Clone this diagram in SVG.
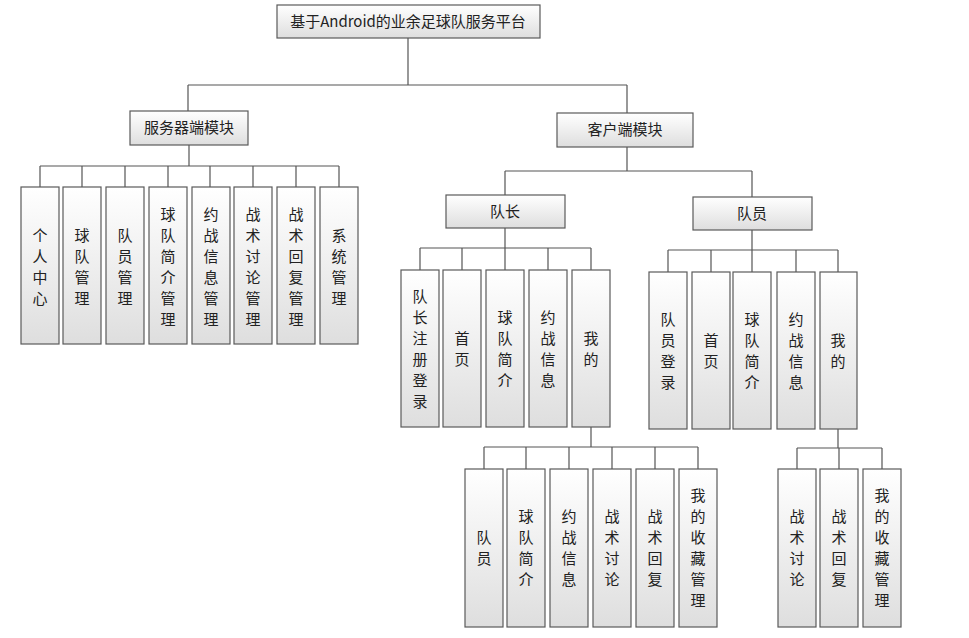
<svg xmlns="http://www.w3.org/2000/svg" width="969" height="638" viewBox="0 0 969 638">
<defs>
<linearGradient id="g" x1="0" y1="0" x2="0" y2="1"><stop offset="0" stop-color="#ffffff"/><stop offset="1" stop-color="#dedede"/></linearGradient>
</defs>
<style>
rect{fill:url(#g);stroke:#5a5a5a;stroke-width:1.2}
rect.bg{fill:#fff;stroke:none}
text{font-family:"Noto Sans CJK SC","Liberation Sans",sans-serif;font-size:15px;fill:#222;text-anchor:middle}
#connectors path{fill:none;stroke:#555;stroke-width:1.2}
</style>
<rect class="bg" width="969" height="638"/>
<g id="connectors">
<path d="M408 38V85M188 85H627M188 85V111M627 85V113"/>
<path d="M189 145V166M40 166H339M40 166V187M82 166V187M125 166V187M168 166V187M210 166V187M253 166V187M296 166V187M339 166V187"/>
<path d="M627 147V171M505 171H752M505 171V195M752 171V197"/>
<path d="M505 228V248M420 248H591M420 248V270M462 248V270M505 248V270M548 248V270M591 248V270"/>
<path d="M752 230V250M668 250H838M668 250V272M711 250V272M752 250V272M796 250V272M838 250V272"/>
<path d="M591 427V447M484 447H698M484 447V469M526 447V469M569 447V469M612 447V469M655 447V469M698 447V469"/>
<path d="M838 429V448M797 448H882M797 448V469M839 448V469M882 448V469"/>
</g>
<g id="root"><rect x="277" y="5" width="263" height="33"/><text x="408" y="27">基于Android的业余足球队服务平台</text></g>
<g id="server"><rect x="130" y="111" width="118" height="34"/><text x="189" y="133">服务器端模块</text></g>
<g id="client"><rect x="557" y="113" width="136" height="34"/><text x="625" y="135">客户端模块</text></g>
<g id="captain"><rect x="446" y="195" width="119" height="33"/><text x="505" y="217">队长</text></g>
<g id="member"><rect x="693" y="197" width="119" height="33"/><text x="752" y="219">队员</text></g>

<g id="s1"><rect x="21" y="187" width="38" height="157"/><text x="40" y="241">个</text><text x="40" y="262">人</text><text x="40" y="283">中</text><text x="40" y="304">心</text></g>
<g id="s2"><rect x="63" y="187" width="38" height="157"/><text x="82" y="241">球</text><text x="82" y="262">队</text><text x="82" y="283">管</text><text x="82" y="304">理</text></g>
<g id="s3"><rect x="106" y="187" width="38" height="157"/><text x="125" y="241">队</text><text x="125" y="262">员</text><text x="125" y="283">管</text><text x="125" y="304">理</text></g>
<g id="s4"><rect x="149" y="187" width="38" height="157"/><text x="168" y="220">球</text><text x="168" y="241">队</text><text x="168" y="262">简</text><text x="168" y="283">介</text><text x="168" y="304">管</text><text x="168" y="325">理</text></g>
<g id="s5"><rect x="192" y="187" width="38" height="157"/><text x="211" y="220">约</text><text x="211" y="241">战</text><text x="211" y="262">信</text><text x="211" y="283">息</text><text x="211" y="304">管</text><text x="211" y="325">理</text></g>
<g id="s6"><rect x="234" y="187" width="38" height="157"/><text x="253" y="220">战</text><text x="253" y="241">术</text><text x="253" y="262">讨</text><text x="253" y="283">论</text><text x="253" y="304">管</text><text x="253" y="325">理</text></g>
<g id="s7"><rect x="277" y="187" width="38" height="157"/><text x="296" y="220">战</text><text x="296" y="241">术</text><text x="296" y="262">回</text><text x="296" y="283">复</text><text x="296" y="304">管</text><text x="296" y="325">理</text></g>
<g id="s8"><rect x="320" y="187" width="38" height="157"/><text x="339" y="241">系</text><text x="339" y="262">统</text><text x="339" y="283">管</text><text x="339" y="304">理</text></g>

<g id="c1"><rect x="401" y="270" width="38" height="157"/><text x="420" y="302">队</text><text x="420" y="323">长</text><text x="420" y="344">注</text><text x="420" y="365">册</text><text x="420" y="386">登</text><text x="420" y="407">录</text></g>
<g id="c2"><rect x="443" y="270" width="38" height="157"/><text x="462" y="344">首</text><text x="462" y="365">页</text></g>
<g id="c3"><rect x="486" y="270" width="38" height="157"/><text x="505" y="323">球</text><text x="505" y="344">队</text><text x="505" y="365">简</text><text x="505" y="386">介</text></g>
<g id="c4"><rect x="529" y="270" width="38" height="157"/><text x="548" y="323">约</text><text x="548" y="344">战</text><text x="548" y="365">信</text><text x="548" y="386">息</text></g>
<g id="c5"><rect x="572" y="270" width="38" height="157"/><text x="591" y="344">我</text><text x="591" y="365">的</text></g>

<g id="m1"><rect x="649" y="272" width="38" height="157"/><text x="668" y="325">队</text><text x="668" y="346">员</text><text x="668" y="367">登</text><text x="668" y="388">录</text></g>
<g id="m2"><rect x="692" y="272" width="38" height="157"/><text x="711" y="346">首</text><text x="711" y="367">页</text></g>
<g id="m3"><rect x="733" y="272" width="38" height="157"/><text x="752" y="325">球</text><text x="752" y="346">队</text><text x="752" y="367">简</text><text x="752" y="388">介</text></g>
<g id="m4"><rect x="777" y="272" width="38" height="157"/><text x="796" y="325">约</text><text x="796" y="346">战</text><text x="796" y="367">信</text><text x="796" y="388">息</text></g>
<g id="m5"><rect x="820" y="272" width="37" height="157"/><text x="838" y="346">我</text><text x="838" y="367">的</text></g>

<g id="d1"><rect x="465" y="469" width="38" height="158"/><text x="484" y="543">队</text><text x="484" y="564">员</text></g>
<g id="d2"><rect x="507" y="469" width="38" height="158"/><text x="526" y="522">球</text><text x="526" y="543">队</text><text x="526" y="564">简</text><text x="526" y="585">介</text></g>
<g id="d3"><rect x="550" y="469" width="38" height="158"/><text x="569" y="522">约</text><text x="569" y="543">战</text><text x="569" y="564">信</text><text x="569" y="585">息</text></g>
<g id="d4"><rect x="593" y="469" width="38" height="158"/><text x="612" y="522">战</text><text x="612" y="543">术</text><text x="612" y="564">讨</text><text x="612" y="585">论</text></g>
<g id="d5"><rect x="636" y="469" width="38" height="158"/><text x="655" y="522">战</text><text x="655" y="543">术</text><text x="655" y="564">回</text><text x="655" y="585">复</text></g>
<g id="d6"><rect x="679" y="469" width="38" height="158"/><text x="698" y="501">我</text><text x="698" y="522">的</text><text x="698" y="543">收</text><text x="698" y="564">藏</text><text x="698" y="585">管</text><text x="698" y="606">理</text></g>

<g id="e1"><rect x="778" y="469" width="38" height="158"/><text x="797" y="522">战</text><text x="797" y="543">术</text><text x="797" y="564">讨</text><text x="797" y="585">论</text></g>
<g id="e2"><rect x="820" y="469" width="38" height="158"/><text x="839" y="522">战</text><text x="839" y="543">术</text><text x="839" y="564">回</text><text x="839" y="585">复</text></g>
<g id="e3"><rect x="863" y="469" width="38" height="158"/><text x="882" y="501">我</text><text x="882" y="522">的</text><text x="882" y="543">收</text><text x="882" y="564">藏</text><text x="882" y="585">管</text><text x="882" y="606">理</text></g>
</svg>
